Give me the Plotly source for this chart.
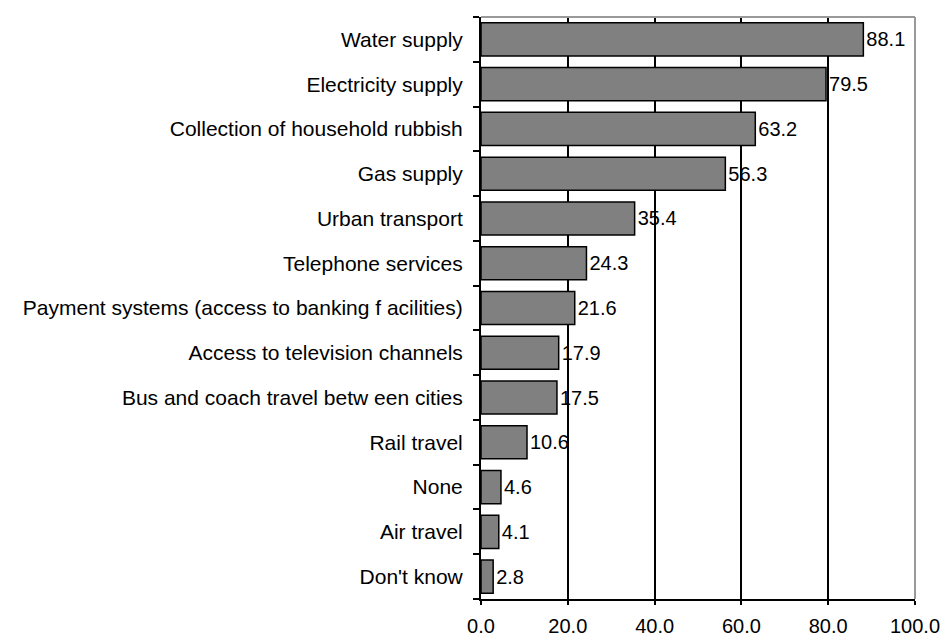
import plotly.graph_objects as go

categories = ["Water supply", "Electricity supply", "Collection of household rubbish",
              "Gas supply", "Urban transport", "Telephone services",
              "Payment systems (access to banking f acilities)",
              "Access to television channels", "Bus and coach travel betw een cities",
              "Rail travel", "None", "Air travel", "Don't know"]
values = [88.1, 79.5, 63.2, 56.3, 35.4, 24.3, 21.6, 17.9, 17.5, 10.6, 4.6, 4.1, 2.8]
x_ticks = [0, 20, 40, 60, 80, 100]
x_ticklabels = ["0.0", "20.0", "40.0", "60.0", "80.0", "100.0"]

font = "Liberation Sans, Arial, sans-serif"

fig = go.Figure(go.Bar(
    y=categories, x=values, orientation="h",
    marker=dict(color="#808080", line=dict(color="black", width=1.5)),
    text=[f"{v:.1f}" for v in values], textposition="outside",
    textfont=dict(family=font, size=20, color="black"),
    cliponaxis=False,
))

fig.update_layout(
    width=944, height=640,
    margin=dict(l=481, r=29, t=17, b=41),
    paper_bgcolor="white", plot_bgcolor="white",
    bargap=0.26,
    showlegend=False,
    font=dict(family=font, size=20, color="black"),
    xaxis=dict(range=[0, 100], tickvals=x_ticks, ticktext=x_ticklabels,
               showgrid=True, gridcolor="black", gridwidth=1.5,
               showline=True, linecolor="black", linewidth=2,
               ticks="outside", ticklen=4, tickcolor="black", tickwidth=1.5,
               zeroline=False, tickfont=dict(size=20), ticklabelstandoff=4,
               automargin=False),
    yaxis=dict(categoryorder="array", categoryarray=categories[::-1],
               showline=True, linecolor="black", linewidth=2,
               ticks="outside", ticklen=6, tickcolor="black", tickwidth=1.5,
               tickson="boundaries", showgrid=False, automargin=False,
               ticklabelstandoff=12, tickfont=dict(size=21)),
    shapes=[
        dict(type="line", xref="paper", yref="paper", x0=0, x1=1, y0=1, y1=1,
             line=dict(color="#999999", width=2)),
        dict(type="line", xref="paper", yref="paper", x0=1, x1=1, y0=0, y1=1,
             line=dict(color="#999999", width=2)),
    ],
)

fig.write_html("out.html")
